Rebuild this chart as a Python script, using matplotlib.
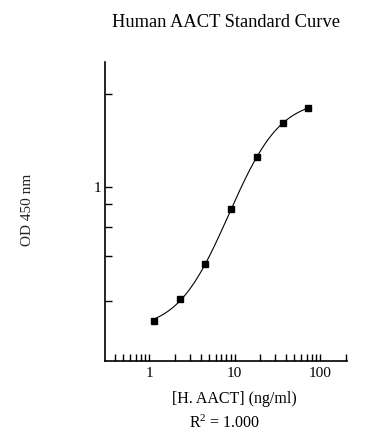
import numpy as np
import matplotlib
matplotlib.use("Agg")
import matplotlib.pyplot as plt
from matplotlib.ticker import LogLocator, NullFormatter, FixedLocator

plt.rcParams['font.family'] = ['Liberation Serif', 'DejaVu Serif']
plt.rcParams['mathtext.fontset'] = 'custom'
plt.rcParams['mathtext.rm'] = 'Liberation Serif'
plt.rcParams['mathtext.it'] = 'Liberation Serif:italic'

# standard curve data
conc = [1.14, 2.28, 4.56, 9.125, 18.25, 36.5, 73.0]
od = [0.569, 0.603, 0.678, 0.877, 1.216, 1.573, 1.779]
ytick_vals = [0.6, 0.7, 0.8, 0.9, 1, 2]
ytick_labels = ['', '', '', '', '1', '']

X = np.asarray(conc)
Y = np.asarray(od)

# y axis offset of the transformed log scale
OFF = 0.446


def f(x, p):
	a, b, c, d = p
	return d + (a - d) / (1.0 + np.power(x / c, b))


# 4PL fit, simple Levenberg-Marquardt
p = np.array([0.55, 1.5, 10.0, 1.9])
lam = 1e-3
for it in range(500):
	r = Y - f(X, p)
	J = np.zeros((len(X), 4))
	for k in range(4):
		dp = np.zeros(4)
		dp[k] = 1e-6 * max(abs(p[k]), 1.0)
		J[:, k] = (f(X, p + dp) - f(X, p)) / dp[k]
	A = J.T @ J
	g = J.T @ r
	step = np.linalg.solve(A + lam * np.diag(np.diag(A)), g)
	pn = p + step
	if np.sum((Y - f(X, pn)) ** 2) < np.sum(r ** 2):
		p = pn
		lam *= 0.5
	else:
		lam *= 4.0

xs = np.logspace(np.log10(X[0]), np.log10(X[-1]), 300)
ys = f(xs, p)

fig = plt.figure(figsize=(3.88, 4.44), dpi=100)
ax = fig.add_axes([0.2706, 0.1869, 0.8943 - 0.2706, 0.8604 - 0.1869])

ax.plot(xs, ys, color='black', lw=0.8)
ax.plot(X, Y, 's', color='black', ms=4.2)

ax.set_xscale('log')
ax.set_yscale('function', functions=(lambda y: np.log10(np.clip(y - OFF, 1e-9, None)),
                                     lambda t: np.power(10.0, t) + OFF))
ax.set_xlim(0.305, 207)
ax.set_ylim(0.5246, 2.68)

ax.xaxis.set_minor_locator(LogLocator(base=10, subs=np.arange(2, 10)))
ax.xaxis.set_minor_formatter(NullFormatter())
ax.set_xticks([1, 10, 100])
ax.set_xticklabels(['1', '10', '100'])

ax.yaxis.set_major_locator(FixedLocator(ytick_vals))
ax.set_yticklabels(ytick_labels)
ax.yaxis.set_minor_locator(FixedLocator([]))

for s in ['top', 'right']:
	ax.spines[s].set_visible(False)
for s in ['left', 'bottom']:
	ax.spines[s].set_linewidth(1.2)

ax.tick_params(axis='both', which='both', direction='in', length=5, width=1, labelsize=11, pad=4)
ax.tick_params(axis='y', pad=3)

fig.text(0.582, 0.949, 'Human AACT Standard Curve', ha='center', va='center', fontsize=13.3)
fig.text(0.605, 0.101, '[H. AACT] (ng/ml)', ha='center', va='center', fontsize=11.5)
fig.text(0.58, 0.047, r'R$^{2}$ = 1.000', ha='center', va='center', fontsize=11.5)
fig.text(0.07, 0.527, 'OD 450 nm', ha='center', va='center', rotation=90, fontsize=11, color='#222222')

fig.savefig('out.png', dpi=100)
